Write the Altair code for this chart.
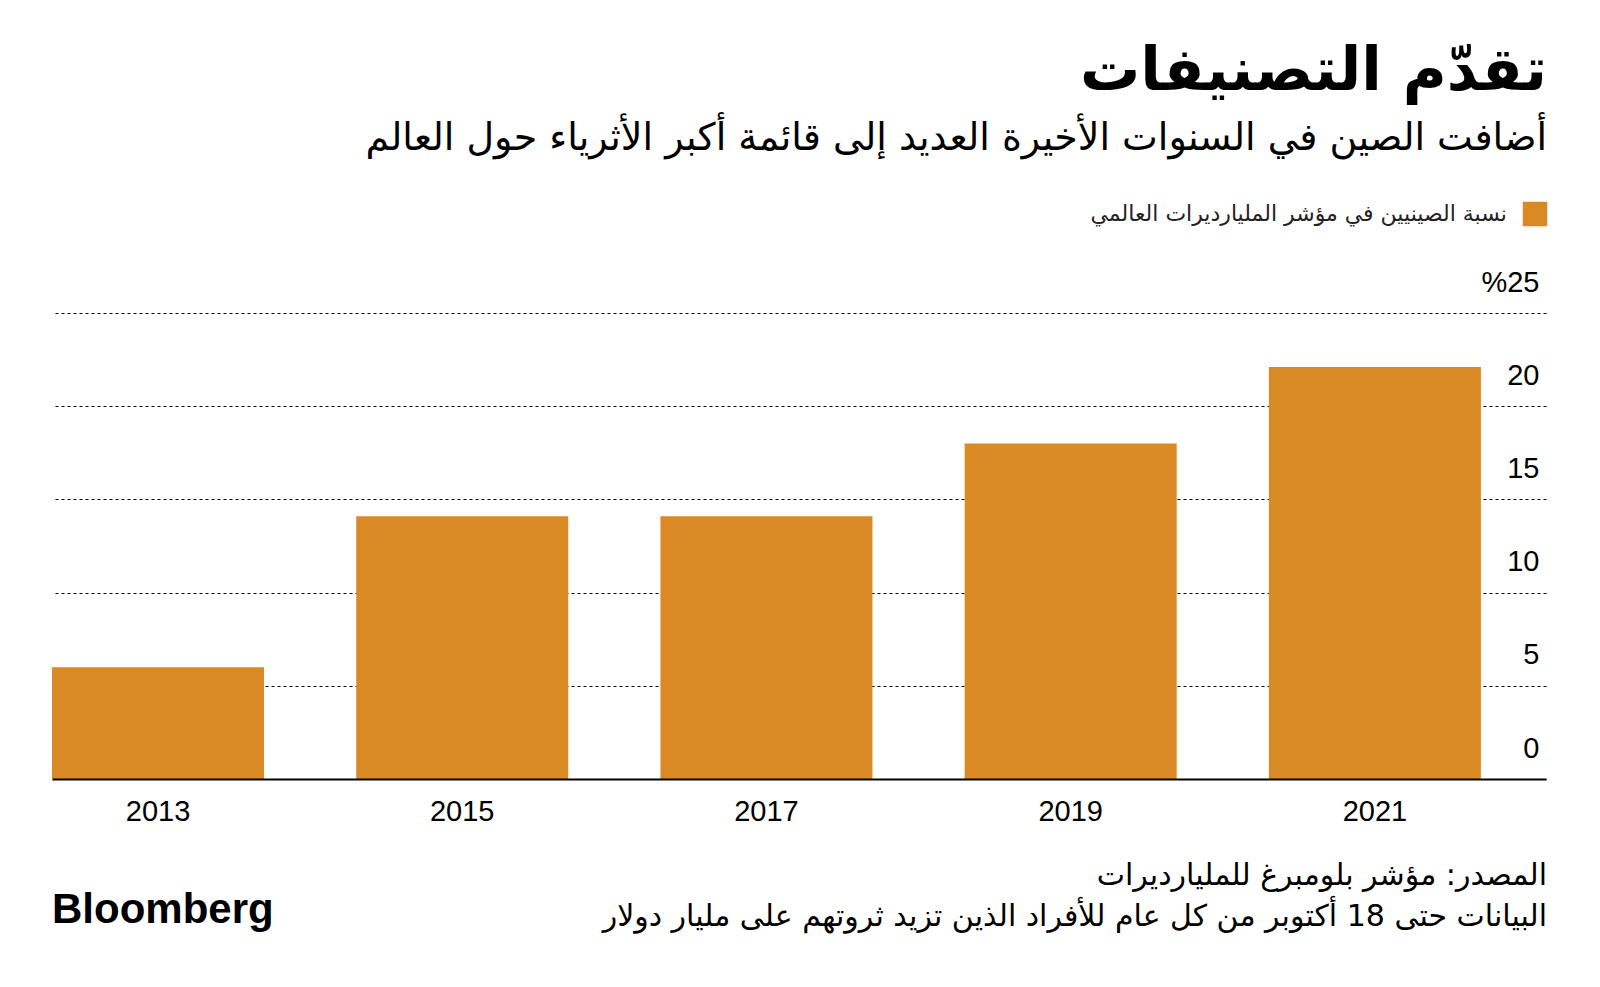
import altair as alt
import pandas as pd

# ---------------- data ----------------
years = ["2013", "2015", "2017", "2019", "2021"]
shares = [6.0, 14.1, 14.1, 18.0, 22.1]
y_ticks = [0, 5, 10, 15, 20, 25]

title_text = "تقدّم التصنيفات"
subtitle_text = "أضافت الصين في السنوات الأخيرة العديد إلى قائمة أكبر الأثرياء حول العالم"
legend_text = "نسبة الصينيين في مؤشر المليارديرات العالمي"
source_text = "المصدر: مؤشر بلومبرغ للمليارديرات"
note_text = "البيانات حتى 18 أكتوبر من كل عام للأفراد الذين تزيد ثروتهم على مليار دولار"
logo_text = "Bloomberg"

# ---------------- layout ----------------
ORANGE = "#D98A25"
AR_FONT = "DejaVu Sans"
NUM_FONT = "Liberation Sans"
W, H = 1494, 466
PX, PY = 52, 313  # page position of plot origin


def rx(x):
    return x - PX


def ry(y):
    return y - PY


df = pd.DataFrame({"year": years, "share": shares})

bars = alt.Chart(df).mark_bar(color=ORANGE).encode(
    x=alt.X(
        "year:N",
        sort=years,
        scale=alt.Scale(paddingInner=0.303, paddingOuter=0.107, align=0),
        axis=alt.Axis(
            title=None,
            ticks=False,
            domainColor="#000000",
            domainWidth=2,
            labelAngle=0,
            labelFont=NUM_FONT,
            labelFontSize=29,
            labelColor="#000000",
            labelPadding=18,
            zindex=1,
        ),
    ),
    y=alt.Y(
        "share:Q",
        scale=alt.Scale(domain=[0, 25], nice=False),
        axis=alt.Axis(
            orient="right",
            title=None,
            values=y_ticks,
            grid=True,
            gridDash=[3, 3],
            gridColor="#000000",
            gridWidth=1.2,
            domain=False,
            ticks=False,
            labelAlign="right",
            labelBaseline="alphabetic",
            labelPadding=-7,
            labelOffset=-22,
            labelFont=NUM_FONT,
            labelFontSize=29,
            labelColor="#000000",
            labelExpr="datum.value == 25 ? '%25' : datum.label",
        ),
    ),
)


def text_layer(txt, x, y, size, font=AR_FONT, weight="normal", align="right", color="#000000"):
    return alt.Chart(pd.DataFrame({"t": [txt]})).mark_text(
        align=align,
        baseline="alphabetic",
        font=font,
        fontSize=size,
        fontWeight=weight,
        color=color,
    ).encode(text="t:N", x=alt.value(rx(x)), y=alt.value(ry(y)))


title = text_layer(title_text, 1547, 90, 60, weight="bold")
subtitle = text_layer(subtitle_text, 1547, 150, 38)
legend_txt = text_layer(legend_text, 1507, 221, 22, color="#222222")
legend_sq = alt.Chart(pd.DataFrame({"t": [legend_text]})).mark_square(
    size=600, color=ORANGE, opacity=1
).encode(x=alt.value(rx(1535)), y=alt.value(ry(214)))
source = text_layer(source_text, 1547, 885, 30)
note = text_layer(note_text, 1547, 926, 30)
logo = text_layer(logo_text, 52, 923, 42, font=NUM_FONT, weight="bold", align="left")

chart = (
    alt.layer(bars, title, subtitle, legend_sq, legend_txt, source, note, logo)
    .properties(
        width=W,
        height=H,
        autosize=alt.AutoSizeParams(type="none"),
        padding={"left": PX - 8, "top": PY - 8, "right": 1584 - (PX - 8) - W, "bottom": 190},
    )
    .configure_view(stroke=None)
)

chart.save("out.html", embed_options={"renderer": "svg", "actions": False})
